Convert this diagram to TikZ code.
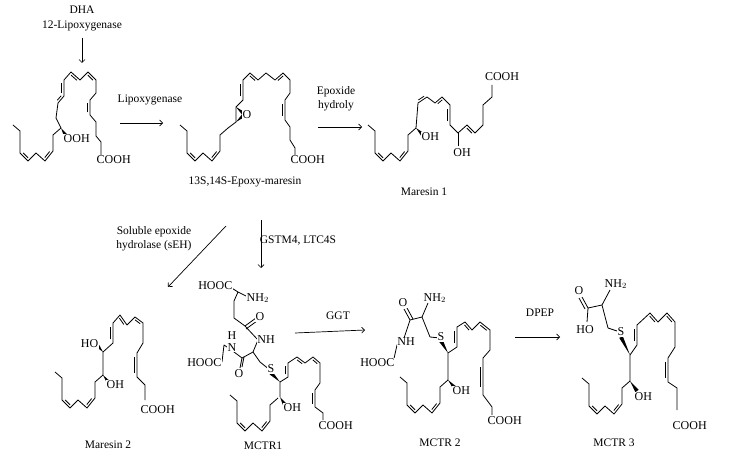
\documentclass[tikz,border=0pt]{standalone}
\usepackage{fontspec}
\setmainfont{Liberation Serif}
\usetikzlibrary{calc,arrows}
\tikzset{bond/.style={line width=0.8pt, line join=round},
  atom/.style={inner sep=0.5pt, fill=white, font=\fontsize{12}{12}\selectfont},
  lbl/.style={inner sep=1pt, font=\fontsize{11.5}{13.5}\selectfont, align=center},
  rxn/.style={->, line width=0.7pt},
  tail/.pic={\draw[bond] (0,0)--(7,6)--(7,28)--(15,36)--(23,28)--(32,36)--(40,26)--(40,10)--(48,3);
    \draw[bond] ($(7,28)!0.2!(15,36)!2.3pt!90:(15,36)$)--($(15,36)!0.2!(7,28)!2.3pt!-90:(7,28)$);
    \draw[bond] ($(32,36)!0.2!(40,26)!2.3pt!90:(40,26)$)--($(40,26)!0.2!(32,36)!2.3pt!-90:(32,36)$);}}
\newcommand\db[2]{\draw[bond] ($#1!0.18!#2!2.3pt!90:#2$) -- ($#2!0.18!#1!2.3pt!-90:#1$);}
\newcommand\wdg[2]{\fill #1 -- ($#2!2pt!90:#1$) -- ($#2!2pt!-90:#1$) -- cycle;}

\begin{document}
\begin{tikzpicture}[x=1pt, y=-1pt, >=angle 90]
\useasboundingbox (0,0) rectangle (730,462);

% 14-HpDHA
\pic at (13,125) {tail};
\draw[bond] (61,128)--(56,118)--(58,103)--(64,96)--(64,80)--(71,72)--(80,80)--(88,72)--(96,80)--(96,93)--(90,100)--(90,115)--(96,122)--(96,136)--(101,142)--(101,155);
\db{(58,103)}{(64,96)} \db{(64,96)}{(64,80)} \db{(80,80)}{(71,72)} \db{(96,80)}{(88,72)} \db{(90,115)}{(90,100)}
\wdg{(61,128)}{(66,136)}
\node[atom, anchor=west] (ooh) at (63,139) {OOH};
\node[atom, anchor=west] (acA) at (96,160) {COOH};

% epoxide
\pic at (180,125) {tail};
\draw[bond] (228,128)--(236,122)--(236,107)--(243,100)--(243,80)--(250,73)--(258,80)--(266,73)--(275,80)--(283,73)--(290,80)--(290,93)--(285,100)--(285,120)--(290,127)--(290,140)--(295,148)--(295,155);
\wdg{(236,122)}{(244,115)} \wdg{(236,107)}{(244,114)}
\node[atom, anchor=west] (ox) at (242,115) {O};
\db{(243,100)}{(243,80)} \db{(258,80)}{(250,73)} \db{(283,73)}{(275,80)} \db{(285,120)}{(285,100)}
\node[atom, anchor=west] (acB) at (290,160) {COOH};

% Maresin 1
\pic at (368,125) {tail};
\draw[bond] (416,128)--(418,103)--(427,97)--(435,103)--(442,97)--(450,105)--(450,125)--(458,133)--(467,125)--(475,133)--(483,125)--(483,105)--(492,97)--(492,85);
\draw[bond] (458,133)--(458,146);
\db{(418,103)}{(427,97)} \db{(442,97)}{(435,103)} \db{(450,125)}{(450,105)} \db{(475,133)}{(467,125)}
\wdg{(416,128)}{(423,135)}
\node[atom, anchor=west] (oh1) at (421,137) {OH};
\node[atom] (oh2) at (462,153) {OH};
\node[atom] (acC) at (502,77) {COOH};

% Maresin 2
\begin{scope}[shift={(0,200)}]
\pic at (55,172) {tail};
\draw[bond] (103,175)--(103,152)--(113,143)--(113,123)--(120,115)--(127,125)--(135,117)--(143,123)--(143,143)--(137,153)--(137,177)--(145,185)--(145,200);
\db{(113,143)}{(113,123)} \db{(127,125)}{(120,115)} \db{(143,123)}{(135,117)} \db{(137,177)}{(137,153)}
\wdg{(103,175)}{(109,183)} \wdg{(103,152)}{(97,145)}
\node[atom, anchor=west] (oh3) at (106,185) {OH};
\node[atom, anchor=east] (ho3) at (99,144) {HO};
\node[atom, anchor=west] (acD) at (140,210) {COOH};
\end{scope}

% MCTR1
\pic at (230,395) {tail};
\draw[bond] (280,397)--(280,382)--(288,377)--(288,363)--(297,357)--(305,363)--(313,357)--(320,363)--(320,383)--(315,390)--(315,407)--(323,413)--(323,420);
\db{(288,377)}{(288,363)} \db{(305,363)}{(297,357)} \db{(320,363)}{(313,357)} \db{(315,407)}{(315,390)}
\wdg{(280,397)}{(285,405)} \wdg{(280,382)}{(271,373)}
\node[atom, anchor=west] (oh4) at (283,408) {OH};
\node[atom, anchor=west] (acE) at (318,426) {COOH};
\draw[bond] (270,370)--(260,362)--(253,352)--(258,340) (253,352)--(242,358)--(230,349)--(224,345)--(222,362);
\draw[bond] (242,358)--(240,368) (244,357)--(242,367);
\draw[bond] (258,340)--(245,326)--(234,318)--(234,301)--(238,292)--(250,298) (238,292)--(230,287);
\draw[bond] (245,326)--(256,318) (246,329)--(257,321);
\node[atom] (s1) at (271,369) {S};
\node[atom] (nh1) at (266,340) {NH};
\node[atom] (n1) at (232,348) {N};
\node[atom] (h1) at (232,336) {H};
\node[atom] (o1) at (239,374) {O};
\node[atom] (o2) at (260,317) {O};
\node[atom, anchor=east] (hooc1) at (222,363) {HOOC};
\node[atom, anchor=east] (hooc2) at (233,286) {HOOC};
\node[atom, anchor=west] (nh2a) at (246,298) {NH$_2$};

% MCTR2
\pic at (400,377) {tail};
\draw[bond] (448,380)--(448,353)--(457,347)--(457,327)--(465,322)--(472,330)--(480,322)--(490,330)--(490,350)--(483,358)--(483,395)--(492,407)--(492,415);
\db{(457,347)}{(457,327)} \db{(472,330)}{(465,322)} \db{(490,330)}{(480,322)} \db{(483,392)}{(483,362)}
\wdg{(448,380)}{(455,388)} \wdg{(448,353)}{(441,341)}
\node[atom, anchor=west] (oh5) at (452,391) {OH};
\node[atom, anchor=west] (acF) at (487,421) {COOH};
\draw[bond] (440,338)--(430,337)--(422,317)--(428,303) (422,317)--(410,320)--(403,341) (403,341)--(397,345)--(393,363);
\draw[bond] (410,320)--(404,309) (413,319)--(407,308);
\node[atom] (s2) at (441,337) {S};
\node[atom, anchor=west] (nh2b) at (423,298) {NH$_2$};
\node[atom] (o3) at (403,303) {O};
\node[atom] (nh2) at (406,342) {NH};
\node[atom, anchor=east] (hooc3) at (395,363) {HOOC};

% MCTR3
\pic at (582,378) {tail};
\draw[bond] (630,381)--(630,355)--(637,345)--(637,325)--(650,313)--(658,322)--(667,313)--(675,322)--(675,347)--(668,358)--(668,382)--(677,388)--(677,410);
\db{(637,345)}{(637,325)} \db{(658,322)}{(650,313)} \db{(675,322)}{(667,313)} \db{(668,382)}{(668,358)}
\wdg{(630,381)}{(637,391)} \wdg{(630,355)}{(621,337)}
\node[atom, anchor=west] (oh6) at (634,397) {OH};
\node[atom, anchor=west] (acG) at (672,426) {COOH};
\draw[bond] (620,332)--(608,328)--(602,305)--(610,290) (602,305)--(588,308)--(587,322);
\draw[bond] (588,308)--(582,297) (585,309)--(579,298);
\node[atom] (s3) at (621,332) {S};
\node[atom, anchor=west] (nh2c) at (604,284) {NH$_2$};
\node[atom] (o4) at (579,291) {O};
\node[atom] (ho4) at (585,330) {HO};

% arrows and names
\node[lbl] (dha) at (82,10) {DHA};
\node[lbl] (lox12) at (82,26) {12-Lipoxygenase};
\draw[rxn] (82,38)--(82,63);
\node[lbl] (lox) at (150,100) {Lipoxygenase};
\draw[rxn] (120,123)--(163,123);
\node[lbl] (eh) at (336,99) {Epoxide\\hydroly};
\draw[rxn] (318,127)--(362,127);
\node[lbl] (epm) at (245,182) {13S,14S-Epoxy-maresin};
\node[lbl] (mar1) at (424,192) {Maresin 1};
\node[lbl] (seh) at (154,239) {Soluble epoxide\\hydrolase (sEH)};
\draw[rxn] (226,226)--(168,287);
\node[lbl] (gstm) at (298,241) {GSTM4, LTC4S};
\draw[rxn] (261,220)--(261,268);
\node[lbl] (ggt) at (338,316) {GGT};
\draw[rxn] (295,333)--(365,330);
\node[lbl] (dpep) at (540,313) {DPEP};
\draw[rxn] (515,337)--(560,337);
\node[lbl] (mar2) at (108,445) {Maresin 2};
\node[lbl] (mctr1) at (263,446) {MCTR1};
\node[lbl] (mctr2) at (440,443) {MCTR 2};
\node[lbl] (mctr3) at (614,443) {MCTR 3};
\end{tikzpicture}
\end{document}
